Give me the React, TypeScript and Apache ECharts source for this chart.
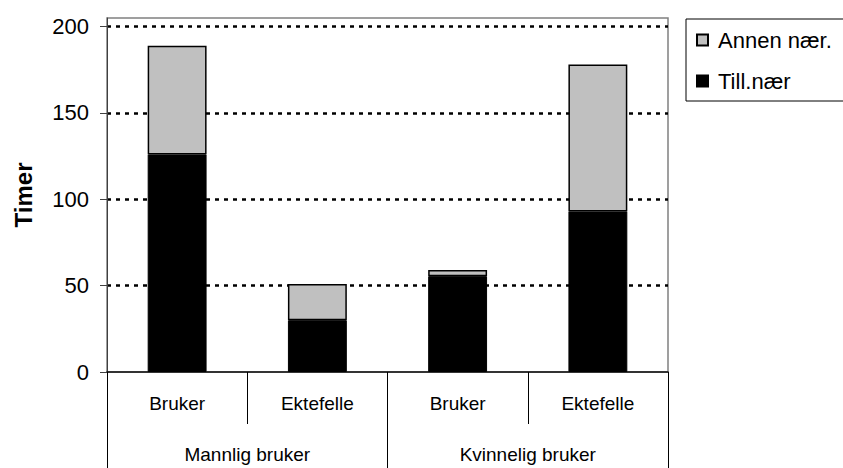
import React, { useEffect, useRef } from "react";
import * as echarts from "echarts";

const subCategories = ["Bruker", "Ektefelle", "Bruker", "Ektefelle"];
const groupCategories = ["Mannlig bruker", "Kvinnelig bruker"];
const tillNaer = [126, 30, 55.5, 93];
const annenNaer = [63, 21, 3.5, 85];
const yTicks = [0, 50, 100, 150, 200];

const FONT = "'Liberation Sans', Arial, sans-serif";

export default function App() {
  const ref = useRef<HTMLDivElement>(null);
  useEffect(() => {
    if (!ref.current) return;
    const chart = echarts.init(ref.current, undefined, { renderer: "svg" });
    chart.setOption({
      animation: false,
      backgroundColor: "#fff",
      textStyle: { fontFamily: FONT, color: "#000" },
      grid: {
        left: 107,
        right: 175,
        top: 18,
        bottom: 96,
        show: true,
        borderColor: "#808080",
        borderWidth: 1.5,
        containLabel: false,
      },
      legend: {
        orient: "vertical",
        left: 686,
        top: 19,
        data: ["Annen nær.", "Till.nær"],
        itemWidth: 11,
        itemHeight: 11,
        itemGap: 19,
        padding: [10, 90, 9, 10],
        borderColor: "#000",
        borderWidth: 1,
        icon: "rect",
        textStyle: { fontSize: 22, fontFamily: FONT, color: "#000", padding: [0, 0, 0, 5] },
      },
      xAxis: [
        {
          type: "category",
          data: subCategories,
          position: "bottom",
          axisLine: { show: true, lineStyle: { color: "#111", width: 1.5 } },
          axisTick: { show: true, interval: 0, length: 52, lineStyle: { color: "#000", width: 1 } },
          axisLabel: {
            interval: 0,
            margin: 22,
            fontSize: 19,
            fontFamily: FONT,
            color: "#000",
          },
        },
        {
          type: "category",
          data: groupCategories,
          position: "bottom",
          offset: 0,
          axisLine: { show: false },
          axisTick: { show: true, interval: 0, length: 96, lineStyle: { color: "#000", width: 1 } },
          axisLabel: {
            interval: 0,
            margin: 73,
            fontSize: 19,
            fontFamily: FONT,
            color: "#000",
          },
        },
      ],
      yAxis: {
        type: "value",
        min: 0,
        max: 205,
        interval: 50,
        name: "Timer",
        nameLocation: "middle",
        nameRotate: 90,
        nameGap: 72,
        nameTextStyle: { fontSize: 24, fontWeight: "bold", fontFamily: FONT, color: "#000" },
        axisLine: { show: true, lineStyle: { color: "#404040", width: 1 } },
        axisTick: {
          show: true,
          length: 7,
          customValues: yTicks,
          lineStyle: { color: "#404040", width: 1 },
        },
        axisLabel: {
          customValues: yTicks,
          margin: 18,
          fontSize: 22,
          fontFamily: FONT,
          color: "#000",
          formatter: (v: number) => (v % 50 === 0 ? String(v) : ""),
        },
        splitLine: {
          show: true,
          lineStyle: {
            color: ["rgba(0,0,0,0)", "#000", "#000", "#000", "#000", "rgba(0,0,0,0)"],
            width: 2.5,
            type: [4, 5],
          },
        },
      },
      series: [
        {
          name: "Till.nær",
          type: "bar",
          stack: "total",
          xAxisIndex: 0,
          data: tillNaer,
          barWidth: "42%",
          itemStyle: { color: "#000", borderColor: "#000", borderWidth: 1 },
        },
        {
          name: "Annen nær.",
          type: "bar",
          stack: "total",
          xAxisIndex: 0,
          data: annenNaer,
          barWidth: "42%",
          itemStyle: { color: "#c0c0c0", borderColor: "#000", borderWidth: 1.5 },
        },
      ],
    });
    return () => chart.dispose();
  }, []);
  return (
    <div
      ref={ref}
      style={{ position: "fixed", left: 0, top: 0, width: 843, height: 468 }}
    />
  );
}
